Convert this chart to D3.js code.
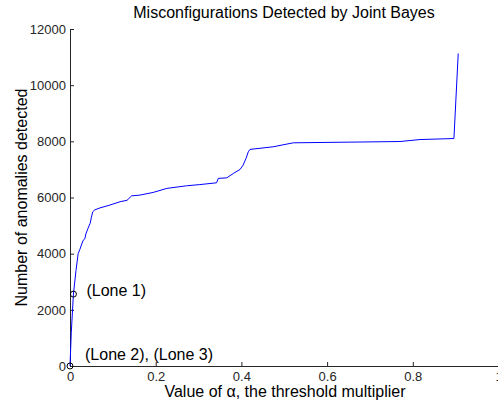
<!DOCTYPE html>
<html>
<head>
<meta charset="utf-8">
<script src="https://cdn.jsdelivr.net/npm/d3@7"></script>
<style>
  body { margin: 0; background: #fff; }
  svg { display: block; font-family: "Liberation Sans", Arial, sans-serif; }
</style>
</head>
<body>
<svg id="chart" width="498" height="403"></svg>
<script>
// threshold multiplier alpha vs. anomalies detected
const alphaValues = [0, 0.003, 0.008, 0.014, 0.019, 0.023, 0.030, 0.035, 0.037, 0.042, 0.047, 0.050, 0.053, 0.058,
  0.070, 0.093, 0.117, 0.133, 0.144, 0.163, 0.194, 0.226, 0.272, 0.303, 0.342, 0.346, 0.366, 0.381, 0.397,
  0.404, 0.411, 0.416, 0.420, 0.474, 0.521, 0.770, 0.817, 0.896, 0.906];
const anomalyCounts = [0, 1200, 2560, 3400, 4000, 4150, 4450, 4550, 4700, 4900, 5080, 5300, 5490, 5560,
  5630, 5730, 5850, 5900, 6060, 6085, 6180, 6324, 6417, 6460, 6523, 6680, 6700, 6855, 7000,
  7153, 7400, 7626, 7712, 7805, 7947, 7993, 8064, 8100, 11128];

const markerLabels = ["(Lone 1)", "(Lone 2), (Lone 3)"];
const markerAlpha = [0.008, 0];
const markerCounts = [2560, 0];

const xTicks = [0, 0.2, 0.4, 0.6, 0.8, 1];
const yTicks = [0, 2000, 4000, 6000, 8000, 10000, 12000];

const svg = d3.select("#chart");
const margin = { left: 70, top: 29, right: 498.5, bottom: 366 };

const x = d3.scaleLinear().domain([0, 1]).range([margin.left, margin.right]);
const y = d3.scaleLinear().domain([0, 12000]).range([margin.bottom, margin.top]);

// axes (MATLAB style, inward ticks, no box)
const xAxis = d3.axisBottom(x).tickValues(xTicks).tickSizeInner(-4).tickSizeOuter(0)
  .tickPadding(6).tickFormat(d3.format("~g"));
const yAxis = d3.axisLeft(y).tickValues(yTicks).tickSizeInner(-4).tickSizeOuter(0)
  .tickPadding(4).tickFormat(d3.format("d"));

const gx = svg.append("g").attr("transform", `translate(0,${margin.bottom})`).call(xAxis);
const gy = svg.append("g").attr("transform", `translate(${margin.left},0)`).call(yAxis);

[gx, gy].forEach(g => {
  g.select(".domain").attr("stroke", "#262626").attr("stroke-width", 1);
  g.selectAll(".tick line").attr("stroke", "#262626");
  g.selectAll("text").attr("fill", "#262626").attr("font-size", "13px")
    .attr("font-family", "Liberation Sans, Arial, sans-serif");
});
gx.selectAll("text").attr("dy", "0.71em");

// curve
const line = d3.line().x((d, i) => x(alphaValues[i])).y(d => y(d));
svg.append("path")
  .datum(anomalyCounts)
  .attr("d", line)
  .attr("fill", "none")
  .attr("stroke", "#0000ff")
  .attr("stroke-width", 1);

// markers
svg.selectAll("circle.mark")
  .data(markerCounts)
  .join("circle")
  .attr("class", "mark")
  .attr("cx", (d, i) => x(markerAlpha[i]))
  .attr("cy", d => y(d))
  .attr("r", 3)
  .attr("fill", "none")
  .attr("stroke", "#000")
  .attr("stroke-width", 1);

svg.selectAll("text.mark-label")
  .data(markerLabels)
  .join("text")
  .attr("class", "mark-label")
  .attr("x", (d, i) => x(markerAlpha[i]) + (i === 0 ? 13 : 15))
  .attr("y", (d, i) => y(markerCounts[i]) + (i === 0 ? 2 : -6))
  .attr("fill", "#000")
  .attr("font-size", "16px")
  .text(d => d);

// title and axis labels
svg.append("text")
  .attr("x", 284).attr("y", 18)
  .attr("text-anchor", "middle")
  .attr("font-size", "16px")
  .attr("fill", "#000")
  .text("Misconfigurations Detected by Joint Bayes");

svg.append("text")
  .attr("x", 285).attr("y", 397)
  .attr("text-anchor", "middle")
  .attr("font-size", "16px")
  .attr("fill", "#000")
  .text("Value of α, the threshold multiplier");

svg.append("text")
  .attr("transform", `translate(27,${(margin.top + margin.bottom) / 2}) rotate(-90)`)
  .attr("text-anchor", "middle")
  .attr("font-size", "16px")
  .attr("fill", "#000")
  .text("Number of anomalies detected");
</script>
</body>
</html>
